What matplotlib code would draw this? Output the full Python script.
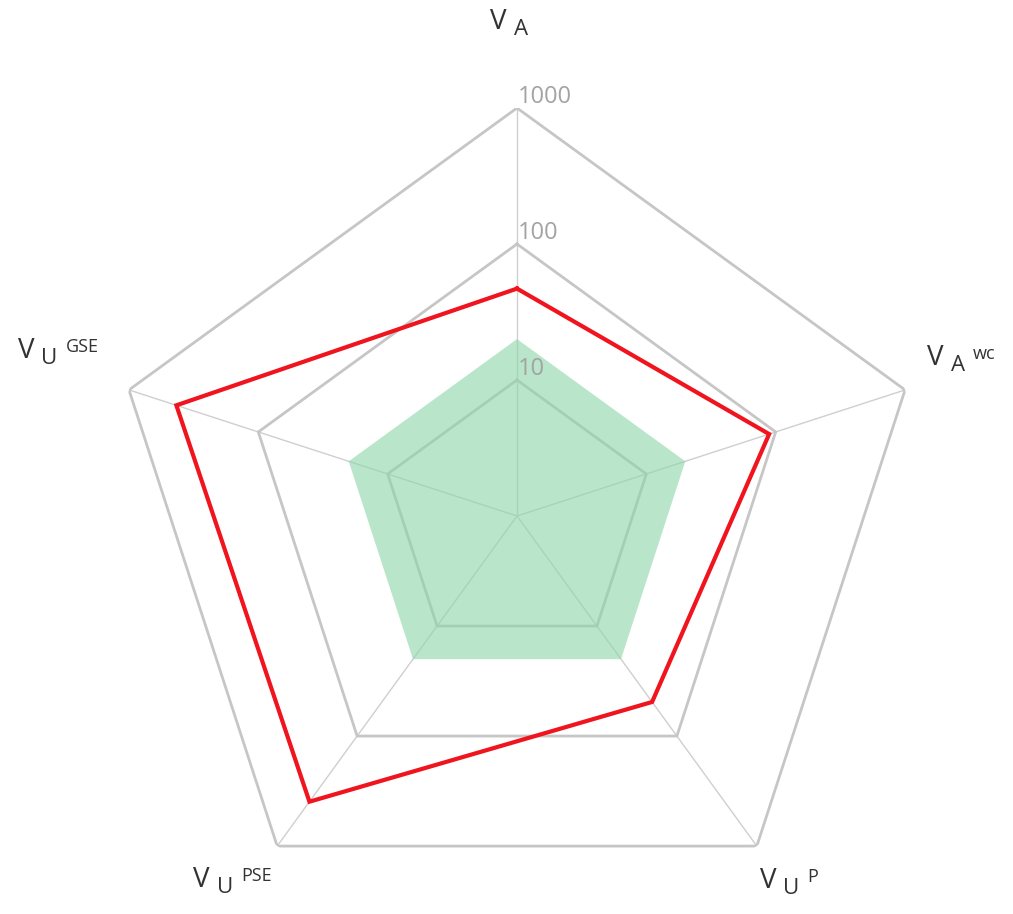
import numpy as np
import matplotlib.pyplot as plt

# axis labels: main letter, subscript, superscript
label_main = ['V', 'V', 'V', 'V', 'V']
label_sub = ['A', 'A', 'U', 'U', 'U']
label_sup = ['', 'wc', 'P', 'PSE', 'GSE']

# series values (log scale, 1 .. 1000)
baseline = [20, 20, 20, 20, 20]
measured = [47, 89, 49, 395, 430]

grid_values = [10, 100, 1000]
grid_labels = ['10', '100', '1000']

# pixel offsets of each axis title from its outer vertex
label_offsets = [(-27, 79), (22, 25), (3, -42), (-84, -41), (-111, 32)]

n = len(label_main)
theta = np.arange(n) * 2 * np.pi / n
theta_closed = np.append(theta, theta[0])


def closed(values):
    v = np.log10(values)
    return np.append(v, v[0])


W, H = 1013, 914
fig = plt.figure(figsize=(W / 100, H / 100), dpi=100)
cx, cy, R = 517, 914 - 516, 408
ax = fig.add_axes([(cx - R) / W, (cy - R) / H, 2 * R / W, 2 * R / H],
                  projection='polar')
ax.set_theta_offset(np.pi / 2)
ax.set_theta_direction(-1)
ax.set_ylim(0, 3)
ax.grid(False)
ax.spines['polar'].set_visible(False)
ax.set_xticks([])
ax.set_yticks([])
ax.patch.set_alpha(0)

# spokes
for t in theta:
    ax.plot([t, t], [0, 3], color='#cfcfcf', lw=1.0, zorder=1)

# pentagon gridlines
for g in grid_values:
    ax.plot(theta_closed, [np.log10(g)] * (n + 1), color='#c6c6c6',
            lw=2.0, zorder=2, solid_joinstyle='miter')

for g, txt in zip(grid_values, grid_labels):
    ax.annotate(txt, xy=(0, np.log10(g)), xytext=(1, -1),
                textcoords='offset pixels', ha='left', va='bottom',
                fontsize=17, color='#a3a3a3', family='Open Sans', zorder=5)

# green reference area
ax.fill(theta_closed, closed(baseline), color='#8fd6aa', alpha=0.62,
        lw=0, zorder=3)

# red measured outline
ax.plot(theta_closed, closed(measured), color='#f0141e', lw=3.0,
        zorder=4, solid_joinstyle='miter')

# axis titles built from three pieces of text
for i in range(n):
    dx, dy = label_offsets[i]
    main = ax.annotate(label_main[i], xy=(theta[i], 3), xytext=(dx, dy),
                       textcoords='offset pixels', ha='left',
                       va='baseline', fontsize=20, color='#333333',
                       family='Open Sans', annotation_clip=False)
    sub = ax.annotate(label_sub[i], xy=(1, 0), xycoords=main,
                      xytext=(7, -4), textcoords='offset pixels',
                      ha='left', va='bottom', fontsize=16,
                      color='#333333', family='Open Sans',
                      annotation_clip=False)
    if label_sup[i]:
        ax.annotate(label_sup[i], xy=(1, 0), xycoords=sub,
                    xytext=(8, 13), textcoords='offset pixels',
                    ha='left', va='bottom', fontsize=13,
                    color='#333333', family='Open Sans',
                    annotation_clip=False)

fig.savefig('out.png', dpi=100)
